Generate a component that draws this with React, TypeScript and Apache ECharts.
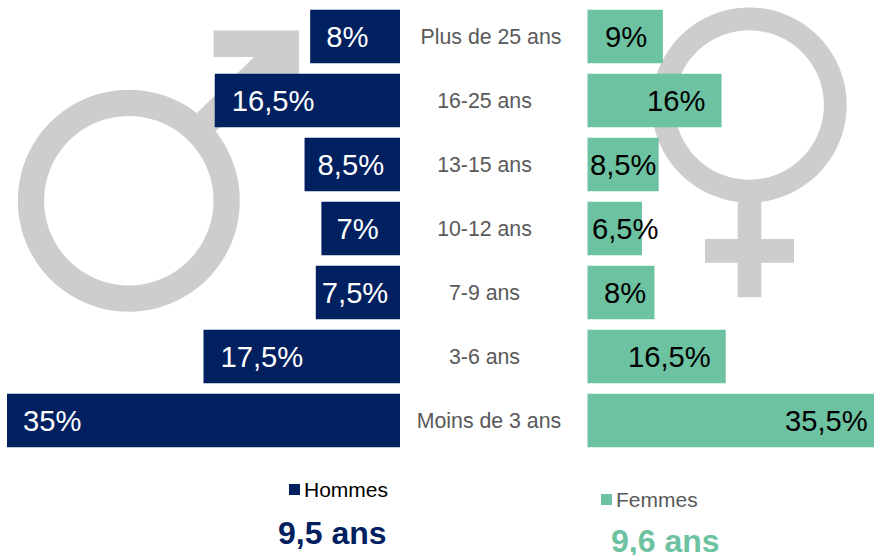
import React, { useEffect, useRef } from "react";
import * as echarts from "echarts";

const ageGroups = ["Plus de 25 ans", "16-25 ans", "13-15 ans", "10-12 ans", "7-9 ans", "3-6 ans", "Moins de 3 ans"];
const hommes = [8, 16.5, 8.5, 7, 7.5, 17.5, 35];
const femmes = [9, 16, 8.5, 6.5, 8, 16.5, 35.5];
const averageHommes = "9,5 ans";
const averageFemmes = "9,6 ans";

// Layout tweaks: where each hand-placed label sits, in pixels
const hommesLabelInset = [16, 17, 13, 15, 6, 17, 16];
const femmesLabelInset = [17.5, 59.5, 2.5, 4.5, 16.5, 40.5, 197.5];
const categoryLabelShift = [6.5, 0, 0, 0, 0, 0, 4.5];

const NAVY = "#002060";
const GREEN = "#6DC2A1";
const GREY = "#CDCDCD";
const FONT = "'Liberation Sans', Arial, sans-serif";

const fmt = (v: number) => String(v).replace(".", ",") + "%";

const barData = (values: number[], insets: number[], color: string) =>
  values.map((v, i) => ({
    value: v,
    label: {
      show: true,
      position: [insets[i], "50%"],
      verticalAlign: "middle",
      align: "left",
      formatter: fmt(v),
      fontSize: 29.2,
      fontFamily: FONT,
      color,
    },
  }));

const categoryData = ageGroups.map((name, i) => ({
  value: name,
  textStyle: { align: "center", padding: [0, 0, 3, categoryLabelShift[i] * 2] },
}));

export default function App() {
  const ref = useRef<HTMLDivElement>(null);
  useEffect(() => {
    const chart = echarts.init(ref.current!, undefined, { renderer: "svg" });
    const shape = { fill: GREY };
    chart.setOption({
      animation: false,
      backgroundColor: "#fff",
      legend: [
        {
          data: ["Hommes"], left: 289, top: 479, icon: "rect", itemWidth: 11, itemHeight: 11, itemGap: 4, padding: 0,
          selectedMode: false,
          textStyle: { fontSize: 21, fontFamily: FONT, color: "#000", padding: [0, 0, 0, -1] },
        },
        {
          data: ["Femmes"], left: 601, top: 489, icon: "rect", itemWidth: 11, itemHeight: 11, itemGap: 4, padding: 0,
          selectedMode: false,
          textStyle: { fontSize: 21, fontFamily: FONT, color: "#595959", padding: [0, 0, 0, -1] },
        },
      ],
      grid: [
        { left: 7, top: 4.5, width: 393, height: 448 },
        { left: 587.5, top: 4.5, width: 286.5, height: 448 },
      ],
      xAxis: [
        { type: "value", gridIndex: 0, min: 0, max: 35, inverse: true, show: false },
        { type: "value", gridIndex: 1, min: 0, max: 34.2, show: false },
      ],
      yAxis: [
        { type: "category", gridIndex: 0, data: ageGroups, inverse: true, axisLine: { show: false }, axisTick: { show: false }, axisLabel: { show: false } },
        {
          type: "category", gridIndex: 1, data: categoryData, inverse: true,
          axisLine: { show: false }, axisTick: { show: false },
          axisLabel: { align: "center", margin: 103, fontSize: 21.3, fontFamily: FONT, color: "#595959" },
        },
      ],
      series: [
        { type: "bar", name: "Hommes", xAxisIndex: 0, yAxisIndex: 0, barWidth: 53.5, z: 2, itemStyle: { color: NAVY }, data: barData(hommes, hommesLabelInset, "#fff") },
        { type: "bar", name: "Femmes", xAxisIndex: 1, yAxisIndex: 1, barWidth: 53.5, z: 2, itemStyle: { color: GREEN }, data: barData(femmes, femmesLabelInset, "#000") },
      ],
      graphic: {
        elements: [
          { type: "ring", z: 0, silent: true, shape: { cx: 128.8, cy: 200.7, r: 111, r0: 84.7 }, style: shape },
          {
            type: "polygon", z: 0, silent: true,
            shape: { points: [[213.5, 30.5], [299, 30.5], [299, 120], [272, 120], [272, 76], [215, 132], [197, 113], [254, 57], [213.5, 57]] },
            style: shape,
          },
          { type: "ring", z: 0, silent: true, shape: { cx: 749.2, cy: 105, r: 97.5, r0: 74.7 }, style: shape },
          { type: "rect", z: 0, silent: true, shape: { x: 737.7, y: 200, width: 23.6, height: 97.3 }, style: shape },
          { type: "rect", z: 0, silent: true, shape: { x: 705, y: 239, width: 89, height: 23.7 }, style: shape },
          { type: "text", z: 3, x: 278, y: 533, style: { text: averageHommes, fill: NAVY, font: `bold 32px ${FONT}`, textVerticalAlign: "middle" } },
          { type: "text", z: 3, x: 611, y: 541, style: { text: averageFemmes, fill: GREEN, font: `bold 32px ${FONT}`, textVerticalAlign: "middle" } },
        ],
      },
    });
    return () => chart.dispose();
  }, []);
  return <div ref={ref} style={{ position: "absolute", left: 0, top: 0, width: 874, height: 555 }} />;
}
